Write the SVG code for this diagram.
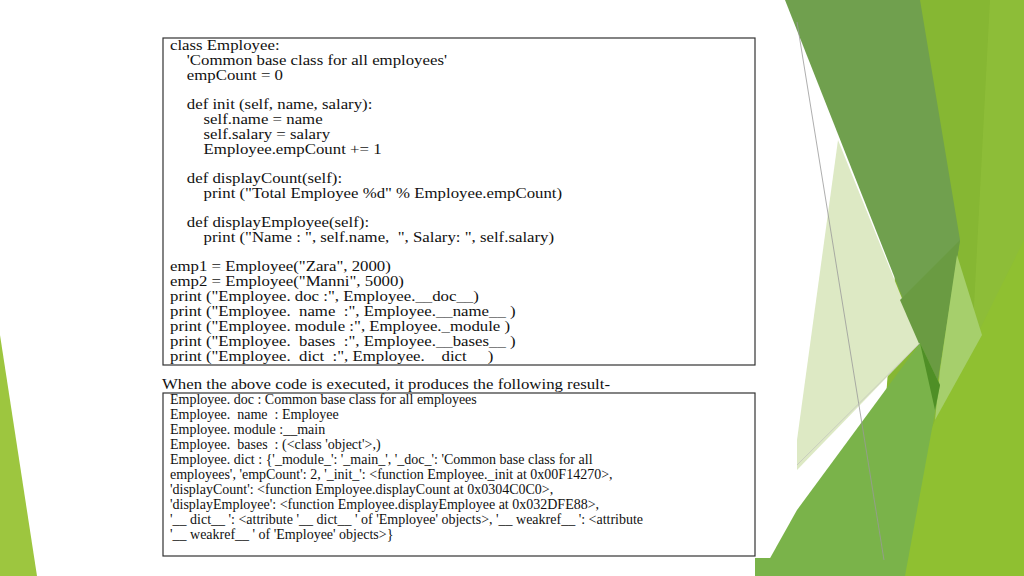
<svg xmlns="http://www.w3.org/2000/svg" width="1024" height="576" viewBox="0 0 1024 576">
<style>
text{font-family:"Liberation Serif","Times New Roman",serif;font-size:14px;fill:#111}
.box{fill:#fff;stroke:#333;stroke-width:1.2}
</style>
<rect width="1024" height="576" fill="#fff"/>
<g id="decor">
<polygon points="0,335 37,576 0,576" fill="#9dc63f"/>
<polygon points="915,0 1024,0 1024,576 873,576" fill="#86b733"/>
<polygon points="990,0 1024,0 1024,576 960,576" fill="#93c23c" opacity="0.6"/>
<polygon points="1024,240 1024,576 873,576 935,420" fill="#8fc031"/>
<polygon points="838,140 920,343 797,470 797,440" fill="#dde9c4"/>
<polygon points="785,0 920,0 960,240 937,385" fill="#70a04e"/>
<polygon points="900,300 960,240 937,385" fill="#6a9b42"/>
<polygon points="957,255 982,335 935,420 940,370" fill="#a6cf6c"/>
<polygon points="920,343 940,385 905,576 760,576 797,510" fill="#7ab34a"/>
<polygon points="920,343 940,385 935,410" fill="#4f8f26"/>
<line x1="797" y1="22" x2="884" y2="560" stroke="#999" stroke-width="0.8"/>
<line x1="797" y1="465" x2="920" y2="343" stroke="#bbb" stroke-width="0.6"/>
<rect x="755" y="558" width="42" height="18" fill="#7ab34a"/>
</g>
<g id="code">
<rect class="box" x="163" y="38" width="592" height="327"/>
<g transform="matrix(1.2,0,0,1,-34,0)">
<text x="170" y="50">class Employee:</text>
<text x="184" y="65">'Common base class for all employees'</text>
<text x="184" y="80">empCount = 0</text>
<text x="184" y="109">def init (self, name, salary):</text>
<text x="198" y="124">self.name = name</text>
<text x="198" y="139">self.salary = salary</text>
<text x="198" y="154">Employee.empCount += 1</text>
<text x="184" y="183">def displayCount(self):</text>
<text x="198" y="198">print ("Total Employee %d" % Employee.empCount)</text>
<text x="184" y="227">def displayEmployee(self):</text>
<text x="198" y="242" xml:space="preserve">print ("Name : ", self.name,  ", Salary: ", self.salary)</text>
<text x="170" y="271">emp1 = Employee("Zara", 2000)</text>
<text x="170" y="286">emp2 = Employee("Manni", 5000)</text>
<text x="170" y="301">print ("Employee. doc :", Employee.__doc__)</text>
<text x="170" y="316" xml:space="preserve">print ("Employee.  name  :", Employee.__name__ )</text>
<text x="170" y="331">print ("Employee. module :", Employee._module )</text>
<text x="170" y="346" xml:space="preserve">print ("Employee.  bases  :", Employee.__bases__ )</text>
<text x="170" y="361" xml:space="preserve">print ("Employee.  dict  :", Employee.    dict     )</text>
</g>
</g>
<g id="result">
<text x="162" y="389" transform="matrix(1.2,0,0,1,-32.4,0)">When the above code is executed, it produces the following result-</text>
<rect class="box" x="163" y="393" width="592" height="163"/>
<text x="170" y="404">Employee. doc : Common base class for all employees</text>
<text x="170" y="419" xml:space="preserve">Employee.  name  : Employee</text>
<text x="170" y="434">Employee. module :__main</text>
<text x="170" y="449" xml:space="preserve">Employee.  bases  : (&lt;class 'object'&gt;,)</text>
<text x="170" y="464">Employee. dict : {'_module_': '_main_', '_doc_': 'Common base class for all</text>
<text x="170" y="479">employees', 'empCount': 2, '_init_': &lt;function Employee._init at 0x00F14270&gt;,</text>
<text x="170" y="494">'displayCount': &lt;function Employee.displayCount at 0x0304C0C0&gt;,</text>
<text x="170" y="509">'displayEmployee': &lt;function Employee.displayEmployee at 0x032DFE88&gt;,</text>
<text x="170" y="524">'__ dict__ ': &lt;attribute '__ dict__ ' of 'Employee' objects&gt;, '__ weakref__ ': &lt;attribute</text>
<text x="170" y="539">'__ weakref__ ' of 'Employee' objects&gt;}</text>
</g>
</svg>
